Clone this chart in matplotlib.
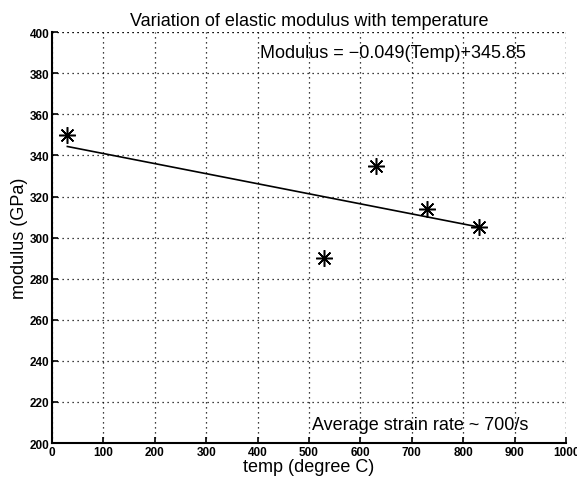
import numpy as np
import matplotlib
matplotlib.use("Agg")
import matplotlib.pyplot as plt
from matplotlib import rcParams

rcParams['font.family'] = ['Liberation Sans', 'DejaVu Sans']

# data
temp = [30, 530, 630, 730, 830]
modulus = [350, 290, 335, 314, 305]
slope = -0.049
intercept = 345.85
xticks = list(range(0, 1001, 100))
yticks = list(range(200, 401, 20))

fig = plt.figure(figsize=(5.77, 4.89), dpi=100)
ax = fig.add_axes([0.090, 0.092, 0.891, 0.840])

# linear fit line
x_fit = np.array([min(temp), max(temp)])
ax.plot(x_fit, slope * x_fit + intercept, color='black', linewidth=1.2)
ax.plot(temp, modulus, linestyle='none', marker=(8, 2, 0), markersize=12,
        markeredgewidth=1.1, color='black')

ax.set_xlim(0, 1000)
ax.set_ylim(200, 400)
ax.set_xticks(xticks)
ax.set_yticks(yticks)
ax.tick_params(direction='in', length=4, width=1.2, labelsize=8.5, pad=2)
for lab in ax.get_xticklabels() + ax.get_yticklabels():
    lab.set_fontweight('bold')

ax.grid(True, color='black', linestyle=(0, (1, 3)), linewidth=0.9)
ax.spines['top'].set_visible(False)
ax.spines['right'].set_visible(False)
ax.spines['left'].set_linewidth(1.5)
ax.spines['bottom'].set_linewidth(1.5)
# dotted box edges like the grid
ax.axhline(400, color='black', linestyle=(0, (1, 3)), linewidth=0.9)
ax.axvline(1000, color='black', linestyle=(0, (1, 3)), linewidth=0.9)

ax.text(405, 390, 'Modulus = \u22120.049(Temp)+345.85', fontsize=13, va='center', ha='left')
ax.text(505, 209, 'Average strain rate ~ 700/s', fontsize=13, va='center', ha='left')

ax.set_title('Variation of elastic modulus with temperature', fontsize=13, pad=5)
ax.set_xlabel('temp (degree C)', fontsize=13, labelpad=0)
ax.set_ylabel('modulus (GPa)', fontsize=13, labelpad=1)

fig.savefig('out.png', dpi=100)
